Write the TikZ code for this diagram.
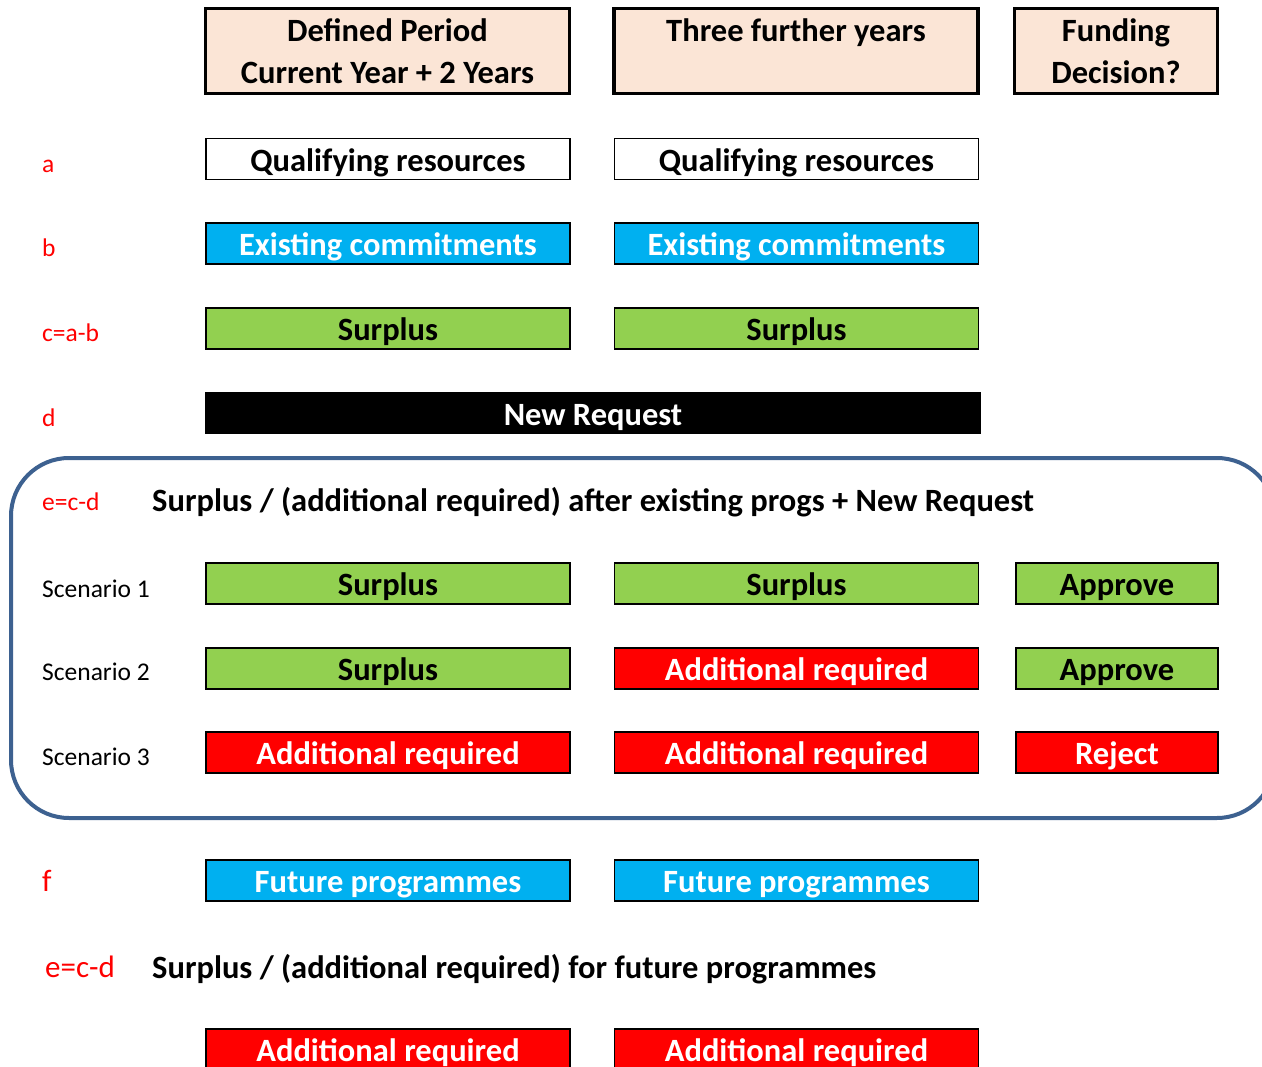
\documentclass[tikz,border=0pt]{standalone}
\usepackage{fontspec}
\setmainfont{Carlito}
\usepackage{tikz}
\usetikzlibrary{positioning}
\definecolor{HeadPeach}{HTML}{FBE5D6}
\definecolor{CommitBlue}{HTML}{00B0F0}
\definecolor{SurplusGreen}{HTML}{92D050}
\definecolor{AddRed}{HTML}{FF0000}
\definecolor{LabelRed}{HTML}{FF0000}
\definecolor{FrameBlue}{HTML}{3D6190}

\begin{document}
\begin{tikzpicture}[x=1pt,y=-1pt,
  cell/.style={draw=black,line width=1.8pt,minimum width=364pt,minimum height=41pt,inner sep=0pt,text height=26pt,text depth=1.5pt,font=\bfseries\fontsize{32.5}{38}\selectfont},
  narrowcell/.style={cell,minimum width=202pt},
  headcell/.style={draw=black,fill=HeadPeach,line width=3.4pt,minimum width=364pt,minimum height=85pt,inner sep=0pt,align=center,font=\bfseries\fontsize{32.5}{42}\selectfont},
  qualcell/.style={cell,fill=white},
  commitcell/.style={cell,fill=CommitBlue,text=white},
  surpluscell/.style={cell,fill=SurplusGreen},
  addcell/.style={cell,fill=AddRed,text=white},
  rowlabel/.style={anchor=base west,inner sep=0pt,text=LabelRed,font=\fontsize{25.5}{30}\selectfont},
  biglabel/.style={rowlabel,font=\fontsize{31}{36}\selectfont},
  scenlabel/.style={rowlabel,text=black},
  caption/.style={anchor=base west,inner sep=0pt,font=\bfseries\fontsize{32.5}{38}\selectfont}
]
\useasboundingbox (0,0) rectangle (1262,1067);
\clip (0,0) rectangle (1262,1067);

% column heads
\node[headcell] (headdef) at (387.5,51) {Defined Period\\Current Year + 2 Years};
\node[headcell] (headthree) at (796,51) {Three further years\\~};
\node[headcell,minimum width=203pt] (headfund) at (1116,51) {Funding\\Decision?};

% a, b, c, d
\node[rowlabel] (la) at (42,173) {a};
\node[qualcell] (qualdef) at (388,159) {Qualifying resources};
\node[qualcell] (qualthree) at (796.5,159) {Qualifying resources};

\node[rowlabel] (lb) at (42,257) {b};
\node[commitcell] (commitdef) at (388,243.5) {Existing commitments};
\node[commitcell] (committhree) at (796.5,243.5) {Existing commitments};

\node[rowlabel] (lc) at (42,342) {c=a-b};
\node[surpluscell] (surpdef) at (388,328.5) {Surplus};
\node[surpluscell] (surpthree) at (796.5,328.5) {Surplus};

\node[rowlabel] (ld) at (42,427) {d};
\node[cell,fill=black,text=white,minimum width=774pt] (newreq) at (593,413) {New Request};

% scenarios frame
\draw[FrameBlue,line width=4pt,rounded corners=58pt] (11,458) rectangle (1275,818);
\node[rowlabel] (le) at (42,510) {e=c-d};
\node[caption] (ecap) at (152,511) {Surplus / (additional required) after existing progs + New Request};

\node[scenlabel] (sone) at (42,597) {Scenario 1};
\node[surpluscell] (sonedef) at (388,583.5) {Surplus};
\node[surpluscell] (sonethree) at (796.5,583.5) {Surplus};
\node[surpluscell,narrowcell] (sonefund) at (1117,583.5) {Approve};

\node[scenlabel] (stwo) at (42,680) {Scenario 2};
\node[surpluscell] (stwodef) at (388,668.5) {Surplus};
\node[addcell] (stwothree) at (796.5,668.5) {Additional required};
\node[surpluscell,narrowcell] (stwofund) at (1117,668.5) {Approve};

\node[scenlabel] (sthree) at (42,765) {Scenario 3};
\node[addcell] (sthreedef) at (388,752.5) {Additional required};
\node[addcell] (sthreethree) at (796.5,752.5) {Additional required};
\node[addcell,narrowcell] (sthreefund) at (1117,752.5) {Reject};

% future programmes
\node[biglabel] (lf) at (42,891) {f};
\node[commitcell] (futdef) at (388,880.5) {Future programmes};
\node[commitcell] (futthree) at (796.5,880.5) {Future programmes};

\node[biglabel] (lfe) at (45,977) {e=c-d};
\node[caption] (fcap) at (152,978) {Surplus / (additional required) for future programmes};

\node[addcell] (lastdef) at (388,1049.5) {Additional required};
\node[addcell] (lastthree) at (796.5,1049.5) {Additional required};
\end{tikzpicture}
\end{document}
